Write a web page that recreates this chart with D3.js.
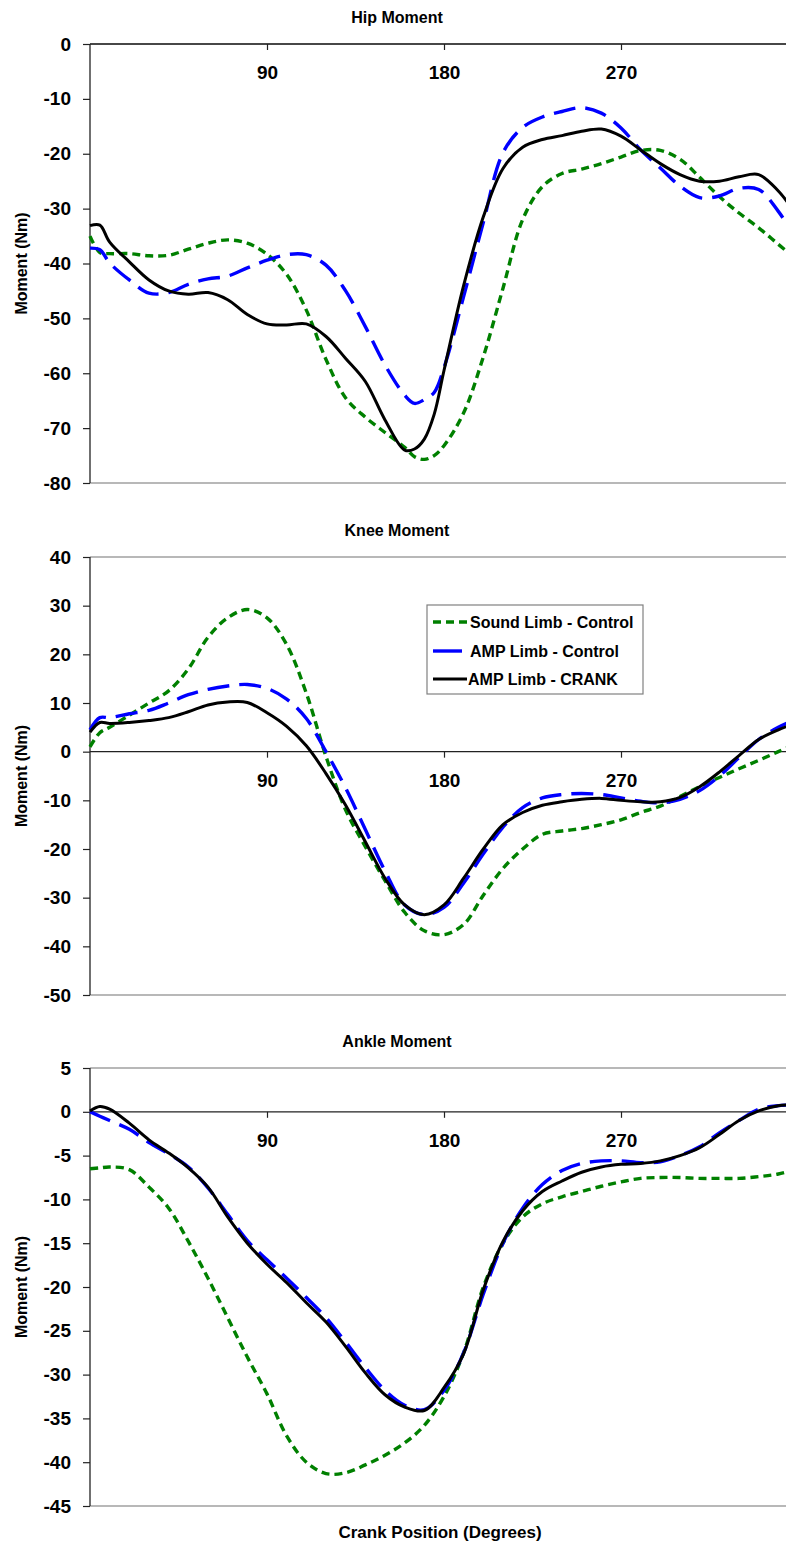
<!DOCTYPE html>
<html>
<head>
<meta charset="utf-8">
<script src="https://cdn.jsdelivr.net/npm/d3@7"></script>
<style>
  body { margin: 0; background: #fff; }
  text { font-family: "Liberation Sans", Arial, sans-serif; font-weight: bold; fill: #000; }
</style>
</head>
<body>
<svg id="chart" width="786" height="1547"></svg>
<script>
// ---- Data: joint moments (Nm) over the crank cycle (degrees) ----
const seriesNames = ["Sound Limb - Control", "AMP Limb - Control", "AMP Limb - CRANK"];
const xTickValues = [90, 180, 270];

const hipAngles = [0,5,10,20,30,40,50,60,70,80,90,100,110,120,130,140,150,160,165,170,175,180,
  190,200,210,220,230,240,250,260,270,280,290,300,310,320,330,340,350,360];
const hipSound = [-35,-38,-38.2,-38.2,-38.6,-38.5,-37.4,-36.3,-35.7,-36.3,-38.3,-42,-48.5,-57.5,-64.5,-68,-70.8,-73.5,-75.2,-75.7,-75,-73.2,
  -67.2,-57,-44.5,-32,-26,-23.6,-22.8,-21.8,-20.6,-19.4,-19.4,-21,-24.3,-27.8,-30.8,-33.5,-36.5,-39.5];
const hipAmpControl = [-37.2,-37.5,-39.9,-43,-45.4,-45.3,-43.8,-42.8,-42.3,-40.8,-39.4,-38.4,-38.4,-40.3,-45,-51.5,-58.5,-64,-65.5,-64.8,-63.5,-59,
  -46,-32.5,-19.8,-15.2,-13.3,-12.3,-11.6,-12.6,-15.3,-19.3,-22.6,-25.9,-28,-27.7,-26.3,-26.5,-30.5,-36];
const hipAmpCrank = [-33.1,-33,-36.1,-39.7,-43,-45,-45.6,-45.3,-46.6,-49.3,-51,-51.2,-51,-53.3,-57.3,-61.5,-68.5,-74,-73.8,-72,-67.5,-59.5,
  -44,-31.5,-22.7,-18.8,-17.4,-16.7,-15.9,-15.5,-16.8,-19.3,-21.8,-23.8,-25,-25,-24.2,-23.8,-26.8,-31.5];
const hipYTicks = [0,-10,-20,-30,-40,-50,-60,-70,-80];

const kneeAngles = [0,5,10,20,30,40,50,60,70,80,90,100,110,120,130,140,150,160,170,180,
  190,200,210,220,230,240,250,260,270,280,290,300,310,320,330,340,350,360];
const kneeSound = [1,3.9,5,7.5,10,12.5,17,23.5,27.5,29.2,27.5,22,12,-1,-12,-19.5,-26.5,-33,-36.8,-37.6,
  -35.5,-29.5,-24,-20,-17,-16.3,-15.8,-15,-14,-12.5,-11.2,-9.2,-7.2,-5.3,-3.5,-1.8,0,1.8];
const kneeAmpControl = [4.5,7,7,7.8,8.5,10,11.7,12.8,13.5,13.8,13,10.8,6.8,0,-7.5,-16,-24.5,-31.5,-33.5,-32,
  -27,-21,-15.5,-11.5,-9.5,-8.8,-8.6,-8.8,-9.5,-10.2,-10.5,-9.8,-8,-5,-1.2,2.5,5,6.8];
const kneeAmpCrank = [4,6,5.8,6,6.4,7,8.2,9.6,10.2,10.1,8,5.2,1.2,-4.5,-11,-18.5,-26,-31.5,-33.5,-31.5,
  -26,-20,-15,-12.5,-11,-10.3,-9.8,-9.6,-10,-10.3,-10.3,-9.4,-7.2,-4.2,-0.8,2.5,4.5,6];
const kneeYTicks = [40,30,20,10,0,-10,-20,-30,-40,-50];

const ankleAngles = [0,5,10,20,30,40,50,60,70,80,90,100,110,120,130,140,150,160,170,180,
  190,200,210,220,230,240,250,260,270,280,290,300,310,320,330,340,350,360];
const ankleSound = [-6.5,-6.4,-6.3,-6.6,-8.6,-11,-14.8,-19,-23.5,-28,-32.2,-37,-40,-41.3,-41.2,-40.3,-39.2,-37.8,-35.8,-32.5,
  -27.5,-20,-15,-12,-10.5,-9.7,-9.1,-8.5,-8,-7.6,-7.5,-7.5,-7.6,-7.6,-7.6,-7.4,-7.1,-6.5];
const ankleAmpControl = [0,-0.5,-1,-2,-3.5,-4.8,-6.3,-8.7,-11.7,-14.7,-16.9,-19,-21.2,-23.5,-26.3,-29.2,-31.8,-33.5,-34,-31.8,
  -27.5,-20.8,-15,-11,-8.3,-6.7,-5.9,-5.6,-5.6,-5.8,-5.7,-5,-4,-2.4,-1,0.3,0.7,0.8];
const ankleAmpCrank = [0.1,0.6,0.3,-1.3,-3.2,-4.7,-6.4,-8.6,-12,-15,-17.4,-19.5,-21.8,-24,-26.8,-29.8,-32.3,-33.7,-34.1,-31.5,
  -27.6,-20.3,-14.8,-11.3,-9.1,-7.9,-6.9,-6.3,-6,-5.9,-5.6,-5,-4.1,-2.6,-1,0.1,0.7,0.8];
const ankleYTicks = [5,0,-5,-10,-15,-20,-25,-30,-35,-40,-45];

// ---- Series styling ----
const seriesStyle = [
  { color: "#008000", width: 3.4, dash: "8,5" },
  { color: "#0000ff", width: 3.4, dash: "22,10" },
  { color: "#000000", width: 3,   dash: null }
];

const panels = [
  { title: "Hip Moment", angles: hipAngles, values: [hipSound, hipAmpControl, hipAmpCrank],
    domain: [-80, 0], ticks: hipYTicks, top: 44, bottom: 483 },
  { title: "Knee Moment", angles: kneeAngles, values: [kneeSound, kneeAmpControl, kneeAmpCrank],
    domain: [-50, 40], ticks: kneeYTicks, top: 557, bottom: 995 },
  { title: "Ankle Moment", angles: ankleAngles, values: [ankleSound, ankleAmpControl, ankleAmpCrank],
    domain: [-45, 5], ticks: ankleYTicks, top: 1068, bottom: 1506 }
];

const svg = d3.select("#chart");
const W = 786;
const plotLeft = 90;
const x = d3.scaleLinear().domain([0, 360]).range([plotLeft, 798]);
const plainNumber = d => String(d);

panels.forEach(p => {
  const y = d3.scaleLinear().domain(p.domain).range([p.bottom, p.top]);
  const g = svg.append("g");

  // plot-area frame (top and bottom edges)
  [p.top, p.bottom].forEach(yy => {
    g.append("line").attr("x1", plotLeft).attr("x2", W).attr("y1", yy).attr("y2", yy)
      .attr("stroke", "#a0a0a0").attr("stroke-width", 1.5);
  });

  // y axis
  const yAxis = d3.axisLeft(y).tickValues(p.ticks).tickSize(7).tickPadding(12).tickFormat(plainNumber);
  const ya = g.append("g").attr("transform", `translate(${plotLeft},0)`).call(yAxis);
  ya.select(".domain").remove();
  ya.selectAll(".tick line").attr("stroke", "#222").attr("stroke-width", 1.2);
  ya.selectAll(".tick text").style("font-size", "19px").attr("font-family", null).attr("fill", "#000");
  g.append("line").attr("x1", plotLeft).attr("x2", plotLeft).attr("y1", p.top).attr("y2", p.bottom)
    .attr("stroke", "#222").attr("stroke-width", 1.3);

  // x axis along the zero line
  const xAxis = d3.axisBottom(x).tickValues(xTickValues).tickSize(6).tickPadding(16).tickSizeOuter(0).tickFormat(plainNumber);
  const xa = g.append("g").attr("transform", `translate(0,${y(0)})`).call(xAxis);
  xa.select(".domain").remove();
  xa.selectAll(".tick line").attr("stroke", "#222").attr("stroke-width", 1.2);
  xa.selectAll(".tick text").style("font-size", "19px").attr("font-family", null).attr("fill", "#000");
  g.append("line").attr("x1", plotLeft).attr("x2", W).attr("y1", y(0)).attr("y2", y(0))
    .attr("stroke", "#222").attr("stroke-width", 1.3);

  // titles
  g.append("text").attr("x", 397).attr("y", p.top - 21).attr("text-anchor", "middle")
    .style("font-size", "16px").text(p.title);
  const midY = (p.top + p.bottom) / 2;
  g.append("text").attr("transform", `translate(27,${midY}) rotate(-90)`).attr("text-anchor", "middle")
    .style("font-size", "16px").text("Moment (Nm)");

  // series lines
  p.values.forEach((vals, i) => {
    const st = seriesStyle[i];
    const line = d3.line().x((d, k) => x(p.angles[k])).y(d => y(d)).curve(d3.curveCatmullRom.alpha(0.5));
    g.append("path").datum(vals).attr("d", line).attr("fill", "none")
      .attr("stroke", st.color).attr("stroke-width", st.width)
      .attr("stroke-dasharray", st.dash).attr("stroke-linejoin", "round");
  });
});

// legend (inside the knee panel)
const lg = svg.append("g").attr("transform", "translate(427,605)");
lg.append("rect").attr("width", 216).attr("height", 89).attr("fill", "#fff")
  .attr("stroke", "#808080").attr("stroke-width", 1.2);
const legendRows = [
  { y: 17, x1: 6, x2: 41, dash: "8,5", textX: 43 },
  { y: 46, x1: 6, x2: 35, dash: null, textX: 43 },
  { y: 74, x1: 6, x2: 40, dash: null, textX: 41 }
];
legendRows.forEach((r, i) => {
  const st = seriesStyle[i];
  lg.append("line").attr("x1", r.x1).attr("x2", r.x2).attr("y1", r.y).attr("y2", r.y)
    .attr("stroke", st.color).attr("stroke-width", st.width).attr("stroke-dasharray", r.dash);
  lg.append("text").attr("x", r.textX).attr("y", r.y).attr("dy", "0.35em")
    .style("font-size", "16px").text(seriesNames[i]);
});

// x-axis title
svg.append("text").attr("x", 440).attr("y", 1538).attr("text-anchor", "middle")
  .style("font-size", "17px").text("Crank Position (Degrees)");
</script>
</body>
</html>
